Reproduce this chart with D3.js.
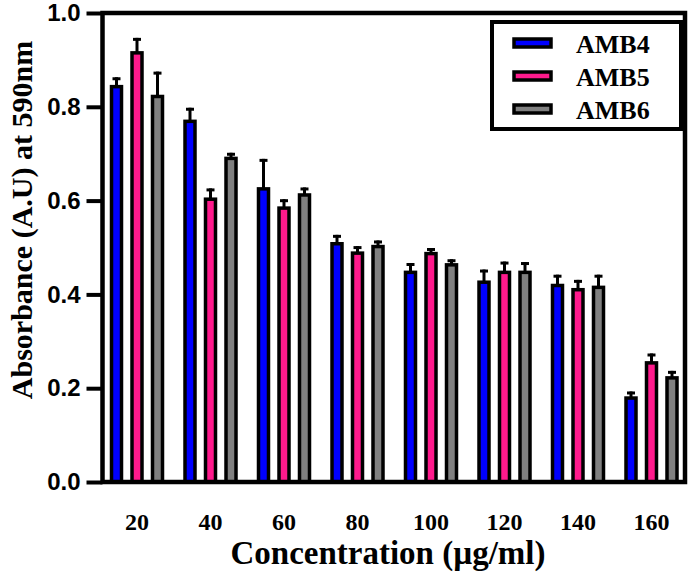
<!DOCTYPE html>
<html>
<head>
<meta charset="utf-8">
<script src="https://cdn.jsdelivr.net/npm/d3@7"></script>
<style>
  html, body { margin: 0; padding: 0; background: #fff; }
  svg { display: block; }
</style>
</head>
<body>
<svg id="chart" width="690" height="579"></svg>
<script>
const categories = ["20", "40", "60", "80", "100", "120", "140", "160"];
const series = ["AMB4", "AMB5", "AMB6"];
const amb4 = [0.843, 0.769, 0.625, 0.508, 0.447, 0.426, 0.419, 0.179];
const amb4Err = [0.020, 0.029, 0.064, 0.019, 0.020, 0.027, 0.023, 0.014];
const amb5 = [0.915, 0.603, 0.584, 0.488, 0.487, 0.447, 0.410, 0.254];
const amb5Err = [0.032, 0.023, 0.019, 0.015, 0.012, 0.023, 0.021, 0.020];
const amb6 = [0.822, 0.690, 0.612, 0.502, 0.463, 0.447, 0.415, 0.222];
const amb6Err = [0.053, 0.012, 0.016, 0.013, 0.012, 0.022, 0.027, 0.015];
const yTicks = [0.0, 0.2, 0.4, 0.6, 0.8, 1.0];
const colors = ["#0000ff", "#ff1a8c", "#808080"];

const values = [amb4, amb5, amb6];
const errors = [amb4Err, amb5Err, amb6Err];

const svg = d3.select("#chart");
const pLeft = 102.5, pRight = 685, pTop = 13, pBottom = 482;

const x0 = d3.scaleBand().domain(categories).range([100.25, 688.25]).padding(0);
const x1 = d3.scaleBand().domain(series).range([0, 61.5]).padding(0);
const y = d3.scaleLinear().domain([0, 1]).range([pBottom, pTop]);

const barW = 10;
const serif = "'Liberation Serif', 'Times New Roman', serif";
const sans = "'Liberation Sans', Arial, sans-serif";

const data = [];
categories.forEach((c, i) => {
  series.forEach((s, j) => {
    data.push({ c, s, j, v: values[j][i], e: errors[j][i] });
  });
});
const cx = d => x0(d.c) + (x0.bandwidth() - 61.5) / 2 + x1(d.s) + x1.bandwidth() / 2;

// error bars
const eb = svg.append("g");
eb.selectAll("line.v").data(data).enter().append("line")
  .attr("x1", cx).attr("x2", cx)
  .attr("y1", d => y(d.v)).attr("y2", d => y(d.v + d.e))
  .attr("stroke", "#000").attr("stroke-width", 3);
eb.selectAll("line.c").data(data).enter().append("line")
  .attr("x1", d => cx(d) - 4).attr("x2", d => cx(d) + 4)
  .attr("y1", d => y(d.v + d.e) + 1.5).attr("y2", d => y(d.v + d.e) + 1.5)
  .attr("stroke", "#000").attr("stroke-width", 3);

// bars
svg.append("g").selectAll("rect").data(data).enter().append("rect")
  .attr("x", d => cx(d) - barW / 2)
  .attr("width", barW)
  .attr("y", d => y(d.v))
  .attr("height", d => y(0) - y(d.v))
  .attr("fill", d => colors[d.j])
  .attr("stroke", "#000").attr("stroke-width", 3.5);

// y axis
const yAxis = d3.axisLeft(y).tickValues(yTicks).tickFormat(d3.format(".1f"))
  .tickSizeInner(16).tickSizeOuter(0).tickPadding(6);
const ga = svg.append("g").attr("transform", `translate(${pLeft},0)`).call(yAxis);
ga.select(".domain").remove();
ga.selectAll(".tick line").attr("stroke", "#000").attr("stroke-width", 4);
ga.selectAll(".tick text").attr("font-family", sans).attr("font-weight", "bold")
  .attr("font-size", 24).attr("fill", "#000");

// x axis
const xAxis = d3.axisBottom(x0).tickSize(0).tickPadding(31);
const gx = svg.append("g").attr("transform", `translate(0,${pBottom})`).call(xAxis);
gx.select(".domain").remove();
gx.selectAll(".tick text").attr("font-family", serif).attr("font-weight", "bold")
  .attr("font-size", 24).attr("fill", "#000");

// frame
svg.append("rect").attr("x", pLeft).attr("y", pTop)
  .attr("width", pRight - pLeft).attr("height", pBottom - pTop)
  .attr("fill", "none").attr("stroke", "#000").attr("stroke-width", 4.5);

// titles
svg.append("text").attr("transform", "translate(32,220) rotate(-90)")
  .attr("text-anchor", "middle").attr("font-family", serif).attr("font-weight", "bold")
  .attr("font-size", 30).attr("fill", "#000").text("Absorbance (A.U) at 590nm");
svg.append("text").attr("x", 388).attr("y", 564)
  .attr("text-anchor", "middle").attr("font-family", serif).attr("font-weight", "bold")
  .attr("font-size", 33).attr("fill", "#000").text("Concentration (µg/ml)");

// legend
const lg = svg.append("g");
lg.append("rect").attr("x", 492).attr("y", 22).attr("width", 189).attr("height", 107)
  .attr("fill", "#fff").attr("stroke", "#000").attr("stroke-width", 4);
series.forEach((s, j) => {
  const cy = 43 + j * 33;
  lg.append("rect").attr("x", 514).attr("y", cy - 4).attr("width", 37).attr("height", 8)
    .attr("fill", colors[j]).attr("stroke", "#000").attr("stroke-width", 3.5);
  lg.append("text").attr("x", 576).attr("y", cy + 10)
    .attr("font-family", serif).attr("font-weight", "bold").attr("font-size", 26)
    .attr("fill", "#000").text(s);
});
</script>
</body>
</html>
